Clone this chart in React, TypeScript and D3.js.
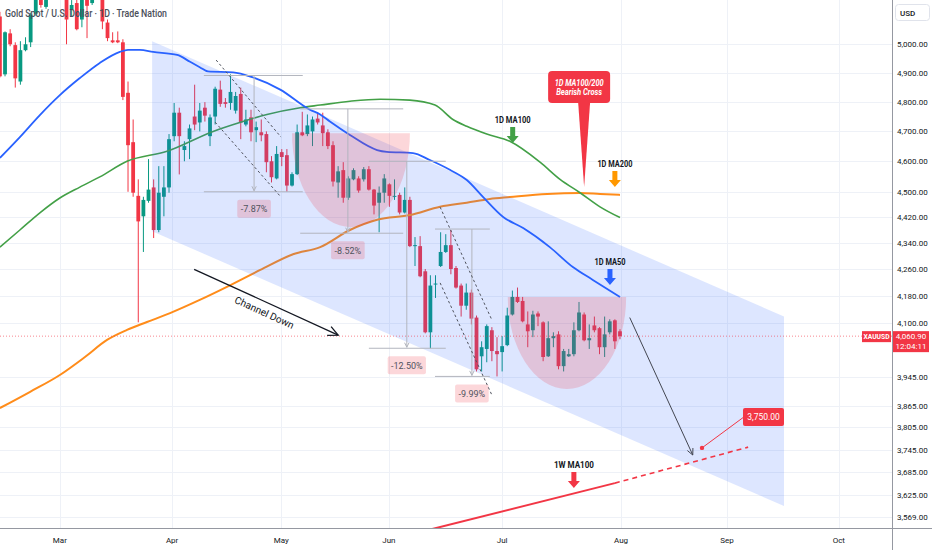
import * as d3 from "d3";

// chart size and plot edges
const W = 932;
const H = 550;
const plotRight = 892;
const plotBottom = 528;

const months = ["Mar", "Apr", "May", "Jun", "Jul", "Aug", "Sep", "Oct"];
// bar index where each month starts
const monthAt = [11.7, 33.6, 54.9, 75.9, 98.0, 121.2, 141.9, 163.7];

const priceTicks = [
  5000, 4900, 4800, 4700, 4600, 4500, 4420, 4340, 4260, 4180, 4100, 3945, 3865, 3805,
  3745, 3685, 3625, 3569,
];

// daily candles, [open, high, low, close]
const candles: [number, number, number, number][] = [
  [5100, 5117, 4883, 4887], [4894, 5046, 4887, 5043], [5039, 5054, 4993, 5000], [4997, 5007, 4848, 4880],
  [4869, 5011, 4858, 4979], [4979, 5025, 4975, 5000], [5007, 5114, 4990, 5107], [5110, 5232, 5103, 5214],
  [5214, 5240, 5132, 5142], [5135, 5220, 5128, 5196], [5190, 5280, 5170, 5260], [5260, 5290, 5180, 5200],
  [5200, 5260, 5170, 5240], [5230, 5250, 5000, 5089], [5124, 5160, 5100, 5142], [5149, 5165, 5050, 5054],
  [5089, 5195, 5061, 5178], [5178, 5200, 5022, 5139], [5149, 5205, 5142, 5189], [5220, 5240, 5170, 5190],
  [5171, 5190, 5054, 5082], [5078, 5089, 5011, 5022], [5014, 5043, 5004, 5007], [5014, 5046, 5004, 5007],
  [5007, 5018, 4805, 4816], [4830, 4869, 4501, 4653], [4663, 4739, 4485, 4498], [4488, 4541, 4101, 4407],
  [4423, 4485, 4312, 4475], [4472, 4607, 4466, 4508], [4515, 4541, 4355, 4380], [4380, 4584, 4373, 4498],
  [4485, 4584, 4423, 4515], [4515, 4690, 4498, 4673], [4683, 4795, 4666, 4762], [4762, 4779, 4557, 4683],
  [4637, 4666, 4600, 4650], [4673, 4722, 4607, 4709], [4749, 4858, 4703, 4722], [4729, 4795, 4699, 4769],
  [4779, 4798, 4732, 4752], [4683, 4756, 4650, 4746], [4749, 4851, 4722, 4844], [4841, 4872, 4782, 4792],
  [4798, 4812, 4779, 4792], [4795, 4894, 4772, 4833], [4769, 4833, 4759, 4819], [4826, 4848, 4673, 4729],
  [4722, 4772, 4716, 4739], [4746, 4772, 4666, 4696], [4703, 4732, 4663, 4713], [4696, 4739, 4666, 4686],
  [4690, 4699, 4564, 4597], [4600, 4617, 4531, 4548], [4544, 4650, 4541, 4624], [4630, 4640, 4584, 4614],
  [4620, 4640, 4501, 4521], [4521, 4564, 4518, 4558], [4558, 4722, 4555, 4696], [4696, 4765, 4683, 4686],
  [4690, 4756, 4683, 4719], [4699, 4749, 4650, 4739], [4742, 4759, 4722, 4729], [4719, 4762, 4650, 4693],
  [4696, 4706, 4640, 4650], [4653, 4666, 4518, 4534], [4531, 4584, 4482, 4567], [4571, 4597, 4466, 4482],
  [4482, 4551, 4475, 4544], [4541, 4577, 4538, 4571], [4544, 4551, 4498, 4505], [4541, 4581, 4534, 4574],
  [4574, 4584, 4505, 4508], [4508, 4510, 4429, 4457], [4466, 4518, 4373, 4498], [4498, 4558, 4466, 4544],
  [4525, 4528, 4453, 4488], [4485, 4541, 4475, 4488], [4491, 4498, 4429, 4435], [4435, 4515, 4432, 4475],
  [4475, 4485, 4327, 4330], [4330, 4358, 4269, 4333], [4330, 4361, 4235, 4238], [4253, 4260, 4069, 4072],
  [4072, 4241, 4026, 4210], [4213, 4241, 4173, 4216], [4269, 4373, 4266, 4312], [4312, 4367, 4309, 4333],
  [4333, 4380, 4244, 4260], [4263, 4269, 4201, 4204], [4210, 4216, 4118, 4150], [4150, 4216, 4138, 4189],
  [4189, 4198, 4095, 4112], [4115, 4121, 3960, 3966], [4003, 4046, 3960, 4029], [4024, 4095, 3986, 4090],
  [4078, 4087, 3989, 4018], [4018, 4058, 3946, 4009], [4015, 4061, 3960, 4032], [4035, 4144, 4032, 4121],
  [4124, 4195, 4121, 4176], [4176, 4204, 4158, 4161], [4164, 4176, 4101, 4104], [4095, 4133, 4029, 4075],
  [4078, 4135, 4058, 4124], [4127, 4133, 4090, 4118], [4101, 4104, 3989, 4001], [4003, 4104, 4001, 4055],
  [4055, 4072, 4029, 4061], [4066, 4075, 3966, 3975], [3975, 4024, 3960, 4018], [4003, 4024, 4001, 4009],
  [4009, 4101, 4003, 4078], [4078, 4161, 4075, 4130], [4124, 4130, 4046, 4049], [4049, 4095, 4024, 4055],
  [4092, 4118, 4072, 4078], [4084, 4087, 4009, 4029], [4029, 4118, 4001, 4066], [4072, 4110, 4066, 4104],
  [4107, 4110, 4024, 4046], [4075, 4081, 4052, 4060.9],
];
const lastPrice = 4060.9;
const lastTime = "12:04:11";

// moving averages, [bar index, price]
const ma50: [number, number][] = [
  [0, 4611], [3.9, 4680], [7.8, 4754], [11.7, 4822], [15.6, 4881], [19.5, 4934], [23.4, 4973],
  [25, 4980], [27.3, 4980], [29.9, 4973], [34.6, 4962], [37.1, 4938], [39, 4919], [40.6, 4904],
  [45.5, 4901], [49.4, 4883], [54.7, 4841], [60.5, 4772], [62.5, 4756], [64.4, 4732], [68.3, 4687],
  [73.6, 4637], [75.5, 4631], [80.6, 4627], [83.9, 4604], [87.8, 4572], [91.1, 4539], [94.3, 4484],
  [98.2, 4421], [102.1, 4386], [107.3, 4327], [111.8, 4266], [115.7, 4227], [121, 4176],
];
const ma100: [number, number][] = [
  [0, 4327], [3.9, 4380], [7.8, 4434], [11.7, 4481], [15.6, 4516], [19.5, 4549], [24.8, 4600],
  [32.6, 4633], [41.6, 4699], [46.8, 4729], [52.1, 4756], [58.6, 4779], [62.5, 4788], [68.3, 4801],
  [74.2, 4808], [80, 4805], [84.9, 4788], [88.4, 4739], [91.1, 4716], [95, 4690], [99.5, 4666],
  [105.4, 4597], [109.3, 4541], [113.2, 4498], [117.1, 4453], [121, 4419],
];
const ma200: [number, number][] = [
  [0, 3858], [5.9, 3903], [11.7, 3950], [16.6, 4001], [20.9, 4050], [24.8, 4079], [28.7, 4102],
  [33.2, 4128], [39, 4167], [44.3, 4206], [50.8, 4257], [57.2, 4305], [62.5, 4327], [68.3, 4380],
  [73.6, 4412], [80, 4427], [85.9, 4453], [91.1, 4466], [95.6, 4478], [99.5, 4484], [106.8, 4494],
  [113.2, 4497], [117.1, 4494], [121, 4491],
];
const wMa100: [number, number][] = [[83, 3535], [120, 3657]];
const wMa100Projection: [number, number][] = [[120, 3657], [146, 3752]];

// channel down
const channelAt = [29.7, 153];
const channelTop = [5011, 4118];
const channelBottom = [4376, 3598];

// rounded bottoms
const arcFrom = [57, 99.1];
const arcTo = [80, 122.2];
const arcTop = [4693, 4176];
const arcBottom = [4389, 3911];

// price range measurements
const measureFrom = [39.8, 58.6, 72, 84.9];
const measureTo = [59.1, 78.7, 87, 95.6];
const measureAt = [49.6, 67.9, 79.4, 92.1];
const measureHigh = [4890, 4775, 4600, 4383];
const measureLow = [4501, 4370, 4026, 3946];
const measureLabels = ["-7.87%", "-8.52%", "-12.50%", "-9.99%"];

// dashed impulse legs
const legs: [number, number][][] = [
  [[42.2, 4944], [54.85, 4680]],
  [[42, 4730], [54.85, 4484]],
  [[85.9, 4452], [96, 4108]],
  [[85.9, 4218], [96, 3894]],
];

const channelArrow: [number, number][] = [[37.9, 4259], [66, 4064]];
const projection: [number, number][] = [[122.9, 4115], [135.2, 3731]];
const target: [number, number] = [137, 3750];

const maTags = ["1D MA100", "1D MA200", "1D MA50", "1W MA100"];
const maTagAt: [number, number][] = [[100.06, 4660], [120, 4516], [119.04, 4212], [112, 3644]];
const maTagColors = ["#43a047", "#ff9800", "#2962ff", "#f23645"];

const crossAt: [number, number] = [114, 4516];
const crossText = ["1D MA100/200", "Bearish Cross"];

const GREEN = "#089981";
const RED = "#f23645";
const FONT = "Roboto, sans-serif";

export default function App() {
  const x = d3.scaleLinear().domain([0, 121]).range([-0.1, 620]);
  const y = d3.scaleLog().domain([4100, 3569]).range([322.7, 517.3]);
  const fmt = d3.format(",.2f");

  const smooth = d3
    .line<[number, number]>()
    .x((d) => x(d[0]))
    .y((d) => y(d[1]))
    .curve(d3.curveMonotoneX);
  const straight = d3
    .line<[number, number]>()
    .x((d) => x(d[0]))
    .y((d) => y(d[1]));

  const chevron = (x0: number, y0: number, x1: number, y1: number, size: number) => {
    const a = Math.atan2(y1 - y0, x1 - x0);
    const s = 0.45;
    return `M${x1 - size * Math.cos(a - s)},${y1 - size * Math.sin(a - s)} L${x1},${y1} L${
      x1 - size * Math.cos(a + s)
    },${y1 - size * Math.sin(a + s)}`;
  };

  const downArrow = (cx: number, tip: number) =>
    `M${cx - 2.5},${tip - 16} h5 v9 h3.5 L${cx},${tip} L${cx - 6},${tip - 7} h3.5 Z`;

  // channel down arrow and its label
  const ca0 = [x(channelArrow[0][0]), y(channelArrow[0][1])];
  const ca1 = [x(channelArrow[1][0]), y(channelArrow[1][1])];
  const caAngle = (Math.atan2(ca1[1] - ca0[1], ca1[0] - ca0[0]) * 180) / Math.PI;
  const caMid = [(ca0[0] + ca1[0]) / 2 + 2, (ca0[1] + ca1[1]) / 2 + 2];
  const rad = (caAngle * Math.PI) / 180;
  const caText = [caMid[0] - Math.sin(rad) * 10, caMid[1] + Math.cos(rad) * 10];

  const pr0 = [x(projection[0][0]), y(projection[0][1])];
  const pr1 = [x(projection[1][0]), y(projection[1][1])];
  const tx = x(target[0]);
  const ty = y(target[1]);

  const cx = x(crossAt[0]);
  const cy = y(crossAt[1]);

  const lastY = y(lastPrice);
  const tagWidths = [36, 35, 31, 40];

  return (
    <div style={{ position: "absolute", left: 0, top: 0 }}>
      <svg width={W} height={H} viewBox={`0 0 ${W} ${H}`} style={{ display: "block", background: "#fff" }}>
        <defs>
          <clipPath id="plot">
            <rect x={0} y={0} width={plotRight} height={plotBottom} />
          </clipPath>
        </defs>

        {/* grid */}
        <g stroke="#eef1f7" strokeWidth={1}>
          {priceTicks.map((p) => (
            <line key={p} x1={0} x2={plotRight} y1={Math.round(y(p)) + 0.5} y2={Math.round(y(p)) + 0.5} />
          ))}
          {monthAt.map((m) => (
            <line key={m} x1={Math.round(x(m)) + 0.5} x2={Math.round(x(m)) + 0.5} y1={0} y2={plotBottom} />
          ))}
        </g>

        <g clipPath="url(#plot)">
          {/* candles */}
          {candles.map(([o, h, l, c], i) => {
            const col = c >= o ? GREEN : RED;
            const top = y(Math.max(o, c));
            const bot = y(Math.min(o, c));
            const cxp = x(i);
            return (
              <g key={i}>
                <line x1={cxp} x2={cxp} y1={y(h)} y2={y(l)} stroke={col} strokeWidth={1} />
                <rect x={cxp - 1.9} y={top} width={3.8} height={Math.max(1, bot - top)} fill={col} />
              </g>
            );
          })}

          {/* moving averages */}
          <path d={smooth(ma200) ?? ""} fill="none" stroke="#ff8c1a" strokeWidth={2} />
          <path d={smooth(ma100) ?? ""} fill="none" stroke="#43a047" strokeWidth={1.6} />
          <path d={smooth(ma50) ?? ""} fill="none" stroke="#2962ff" strokeWidth={1.8} />

          {/* channel */}
          <polygon
            points={[
              [x(channelAt[0]), y(channelTop[0])],
              [x(channelAt[1]), y(channelTop[1])],
              [x(channelAt[1]), y(channelBottom[1])],
              [x(channelAt[0]), y(channelBottom[0])],
            ]
              .map((p) => p.join(","))
              .join(" ")}
            fill="rgba(41,98,255,0.16)"
          />

          {/* rounded bottoms */}
          {arcFrom.map((f, i) => {
            const L = x(f);
            const R = x(arcTo[i]);
            const T = y(arcTop[i]);
            const B = y(arcBottom[i]);
            return (
              <path
                key={i}
                d={`M${L},${T} A${(R - L) / 2},${B - T} 0 0 0 ${R},${T} Z`}
                fill="rgba(242,54,69,0.2)"
              />
            );
          })}

          {/* last price line */}
          <line x1={0} x2={plotRight} y1={lastY} y2={lastY} stroke={RED} strokeOpacity={0.6} strokeDasharray="1 2" />

          {/* measurements */}
          {measureFrom.map((f, i) => {
            const x0 = x(f);
            const x1 = x(measureTo[i]);
            const xa = x(measureAt[i]);
            const yh = y(measureHigh[i]);
            const yl = y(measureLow[i]);
            const bw = measureLabels[i].length * 4.6 + 6;
            return (
              <g key={i}>
                <line x1={x0} x2={x1} y1={yh} y2={yh} stroke="#b2b5be" />
                <line x1={x0} x2={x1} y1={yl} y2={yl} stroke="#b2b5be" />
                <line x1={xa} x2={xa} y1={yh} y2={yl - 1} stroke="#b2b5be" />
                <path d={chevron(xa, yh, xa, yl - 1, 5)} fill="none" stroke="#b2b5be" />
                <rect x={xa - bw / 2} y={yl + 8} width={bw} height={18} rx={2} fill="rgba(242,54,69,0.2)" />
                <text x={xa} y={yl + 20.5} textAnchor="middle" fontFamily={FONT} fontSize={9} fill="#50535e">
                  {measureLabels[i]}
                </text>
              </g>
            );
          })}

          {/* impulse legs */}
          {legs.map((l, i) => (
            <path key={i} d={straight(l) ?? ""} fill="none" stroke="#50535e" strokeWidth={1} strokeDasharray="2.5 2.5" />
          ))}

          {/* channel down arrow */}
          <line x1={ca0[0]} y1={ca0[1]} x2={ca1[0]} y2={ca1[1]} stroke="#131722" strokeWidth={1.3} />
          <path d={chevron(ca0[0], ca0[1], ca1[0], ca1[1], 11)} fill="none" stroke="#131722" strokeWidth={1.3} />
          <text
            x={caText[0]}
            y={caText[1]}
            transform={`rotate(${caAngle},${caText[0]},${caText[1]})`}
            textAnchor="middle"
            dominantBaseline="middle"
            fontFamily={FONT}
            fontSize={10}
            fill="#131722"
          >
            Channel Down
          </text>

          {/* weekly MA100 */}
          <path d={straight(wMa100) ?? ""} fill="none" stroke={RED} strokeWidth={2} />
          <path d={straight(wMa100Projection) ?? ""} fill="none" stroke={RED} strokeWidth={1.6} strokeDasharray="5 4" />

          {/* projection */}
          <line x1={pr0[0]} y1={pr0[1]} x2={pr1[0]} y2={pr1[1]} stroke="#434651" strokeWidth={1} />
          <path d={chevron(pr0[0], pr0[1], pr1[0], pr1[1], 7)} fill="none" stroke="#434651" strokeWidth={1} />
          <line x1={tx} y1={ty} x2={tx + 42} y2={ty - 31} stroke={RED} strokeWidth={1} />
          <circle cx={tx} cy={ty} r={2.2} fill={RED} />
          <rect x={tx + 41} y={ty - 40} width={41} height={18} rx={2} fill={RED} />
          <text x={tx + 61.5} y={ty - 28} textAnchor="middle" fontFamily={FONT} fontSize={8.5} fill="#fff">
            {fmt(target[1])}
          </text>

          {/* MA tags */}
          {maTags.map((t, i) => {
            const ax = x(maTagAt[i][0]);
            const ay = y(maTagAt[i][1]);
            return (
              <g key={t}>
                <text
                  x={ax}
                  y={ay - 20}
                  textAnchor="middle"
                  fontFamily={FONT}
                  fontSize={9}
                  fontWeight={700}
                  fill="#131722"
                  textLength={tagWidths[i]}
                  lengthAdjust="spacingAndGlyphs"
                >
                  {t}
                </text>
                <path d={downArrow(ax, ay)} fill={maTagColors[i]} />
              </g>
            );
          })}

          {/* bearish cross callout */}
          <rect x={cx - 36} y={cy - 116} width={62} height={32} rx={4} fill={RED} />
          <path d={`M${cx - 6},${cy - 85} L${cx + 6},${cy - 85} L${cx},${cy} Z`} fill={RED} />
          {crossText.map((t, i) => (
            <text
              key={t}
              x={cx - 5}
              y={cy - 101.5 + i * 9.5}
              textAnchor="middle"
              fontFamily={FONT}
              fontSize={8.5}
              fontWeight={700}
              fontStyle="italic"
              fill="#fff"
              textLength={i === 0 ? 49 : 46}
              lengthAdjust="spacingAndGlyphs"
            >
              {t}
            </text>
          ))}
        </g>

        {/* title */}
        <text
          x={5}
          y={16.5}
          fontFamily={FONT}
          fontSize={10}
          fontWeight={500}
          fill="#4a4e59"
          textLength={162}
          lengthAdjust="spacingAndGlyphs"
        >
          Gold Spot / U.S. Dollar · 1D · Trade Nation
        </text>

        {/* price axis */}
        <rect x={plotRight} y={0} width={W - plotRight} height={H} fill="#fff" />
        <line x1={plotRight + 0.5} x2={plotRight + 0.5} y1={0} y2={H} stroke="#9598a1" />
        <line x1={0} x2={W} y1={plotBottom + 0.5} y2={plotBottom + 0.5} stroke="#9598a1" />
        <rect x={895.5} y={4.5} width={34} height={16} rx={3} fill="#fff" stroke="#e0e3eb" />
        <text x={900} y={15.5} fontFamily={FONT} fontSize={8} fontWeight={500} fill="#131722">
          USD
        </text>
        {priceTicks.map((p) => (
          <text key={p} x={897} y={y(p) + 3} fontFamily={FONT} fontSize={8} fill="#131722">
            {fmt(p)}
          </text>
        ))}
        <rect x={862} y={lastY - 5} width={29} height={11} fill={RED} />
        <text
          x={876.5}
          y={lastY + 3}
          textAnchor="middle"
          fontFamily={FONT}
          fontSize={7.5}
          fontWeight={700}
          fill="#fff"
          textLength={26}
          lengthAdjust="spacingAndGlyphs"
        >
          XAUUSD
        </text>
        <rect x={893} y={lastY - 5} width={36} height={21} fill={RED} />
        <text x={911} y={lastY + 3} textAnchor="middle" fontFamily={FONT} fontSize={8} fill="#fff">
          {fmt(lastPrice)}
        </text>
        <text x={911} y={lastY + 12.5} textAnchor="middle" fontFamily={FONT} fontSize={8} fill="#fff">
          {lastTime}
        </text>

        {/* time axis */}
        {months.map((m, i) => (
          <text key={m} x={x(monthAt[i])} y={543} textAnchor="middle" fontFamily={FONT} fontSize={8} fill="#131722">
            {m}
          </text>
        ))}
      </svg>
    </div>
  );
}
